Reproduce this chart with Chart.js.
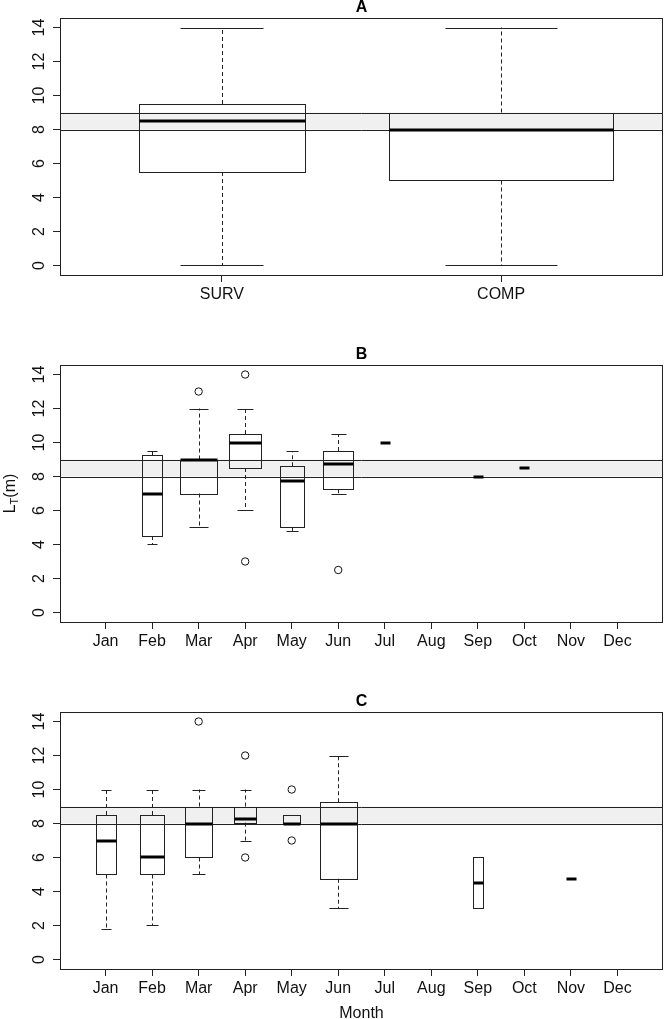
<!DOCTYPE html>
<html>
<head>
<meta charset="utf-8">
<script src="https://cdn.jsdelivr.net/npm/chart.js@4.4.1/dist/chart.umd.min.js"></script>
<style>
  html, body { margin: 0; padding: 0; background: #fff; overflow: hidden; }
  #wrap { position: relative; width: 664px; height: 1019px; overflow: hidden; }
  #wrap canvas { position: absolute; left: 0; }
</style>
</head>
<body>
<div id="wrap">
  <canvas id="panelA" width="664" height="347" style="top:0px"></canvas>
  <canvas id="panelB" width="664" height="347" style="top:347px"></canvas>
  <canvas id="panelC" width="664" height="347" style="top:694px"></canvas>
</div>
<script>
// ---- data ----
const yTicks = [0, 2, 4, 6, 8, 10, 12, 14];
const bandRange = [8, 9];

// Panel A: all records by group
const groupsA = ['SURV', 'COMP'];
const countA = [46, 83];
const lowA = [0, 0];
const q1A = [5.5, 5];
const medA = [8.5, 8];
const q3A = [9.5, 9];
const highA = [14, 14];
const outA = [[], []];

// Panel B: SURV by month
const months = ['Jan', 'Feb', 'Mar', 'Apr', 'May', 'Jun', 'Jul', 'Aug', 'Sep', 'Oct', 'Nov', 'Dec'];
const countB = [0, 4, 14, 10, 6, 9, 1, 0, 1, 1, 0, 0];
const lowB = [null, 4, 5, 6, 4.8, 7, 10, null, 8, 8.5, null, null];
const q1B = [null, 4.5, 7, 8.5, 5, 7.25, 10, null, 8, 8.5, null, null];
const medB = [null, 7, 9, 10, 7.75, 8.75, 10, null, 8, 8.5, null, null];
const q3B = [null, 9.25, 9, 10.5, 8.6, 9.5, 10, null, 8, 8.5, null, null];
const highB = [null, 9.5, 12, 12, 9.5, 10.5, 10, null, 8, 8.5, null, null];
const outB = [[], [], [13], [14, 3], [], [2.5], [], [], [], [], [], []];

// Panel C: COMP by month
const countC = [8, 12, 15, 10, 6, 28, 0, 0, 2, 0, 2, 0];
const lowC = [1.8, 2, 5, 7, 8, 3, null, null, 3, null, 4.75, null];
const q1C = [5, 5, 6, 8.05, 8, 4.75, null, null, 3, null, 4.75, null];
const medC = [7, 6, 8, 8.25, 8, 8, null, null, 4.5, null, 4.75, null];
const q3C = [8.5, 8.5, 9, 9, 8.5, 9.25, null, null, 6, null, 4.75, null];
const highC = [10, 10, 10, 10, 8.5, 12, null, null, 6, null, 4.75, null];
const outC = [[], [], [14], [12, 6], [10, 7], [], [], [], [], [], [], []];

// ---- drawing ----
const FONT = '"Liberation Sans", Arial, Helvetica, sans-serif';
Chart.defaults.font.family = FONT;
Chart.defaults.color = '#111';

const crisp = v => Math.round(v) + 0.5;

function boxPlugin(stats, yLabel) {
  return {
    id: 'rBoxes',
    beforeDatasetsDraw(chart) {
      const { ctx, chartArea: a, scales: { x, y } } = chart;
      ctx.save();
      // reference band
      const yTop = y.getPixelForValue(bandRange[1]);
      const yBot = y.getPixelForValue(bandRange[0]);
      ctx.fillStyle = '#f0f0f0';
      ctx.fillRect(a.left, yTop, a.right - a.left, yBot - yTop);
      ctx.strokeStyle = '#222';
      ctx.lineWidth = 1;
      [yTop, yBot].forEach(py => {
        ctx.beginPath();
        ctx.moveTo(a.left, crisp(py));
        ctx.lineTo(a.right, crisp(py));
        ctx.stroke();
      });

      // boxes (varwidth like R: 0.8 * sqrt(n / max n))
      const maxN = Math.max(...stats.count);
      stats.med.forEach((m, i) => {
        if (m === null) return;
        const xc = x.getPixelForValue(i + 1);
        const half = x.getPixelForValue(i + 1 + 0.4 * Math.sqrt(stats.count[i] / maxN)) - xc;
        const pQ1 = y.getPixelForValue(stats.q1[i]);
        const pQ3 = y.getPixelForValue(stats.q3[i]);
        const pLo = y.getPixelForValue(stats.low[i]);
        const pHi = y.getPixelForValue(stats.high[i]);
        const pMed = y.getPixelForValue(m);
        const xl = crisp(xc - half), xr = crisp(xc + half);
        ctx.strokeStyle = '#222';
        ctx.lineWidth = 1;

        // whiskers
        ctx.setLineDash([4, 3]);
        ctx.beginPath();
        if (pHi < pQ3) { ctx.moveTo(crisp(xc), pQ3); ctx.lineTo(crisp(xc), pHi); }
        if (pLo > pQ1) { ctx.moveTo(crisp(xc), pQ1); ctx.lineTo(crisp(xc), pLo); }
        ctx.stroke();
        ctx.setLineDash([]);
        // staples + box
        if (stats.q3[i] !== stats.q1[i]) {
          ctx.beginPath();
          ctx.moveTo(crisp(xc - half / 2), crisp(pHi));
          ctx.lineTo(crisp(xc + half / 2), crisp(pHi));
          ctx.moveTo(crisp(xc - half / 2), crisp(pLo));
          ctx.lineTo(crisp(xc + half / 2), crisp(pLo));
          ctx.stroke();
          ctx.strokeRect(xl, crisp(pQ3), xr - xl, crisp(pQ1) - crisp(pQ3));
        }
        // median
        ctx.strokeStyle = '#000';
        ctx.lineWidth = 3;
        ctx.beginPath();
        ctx.moveTo(xl, Math.round(pMed));
        ctx.lineTo(xr, Math.round(pMed));
        ctx.stroke();
      });
      ctx.restore();
    },
    afterDraw(chart) {
      const { ctx, chartArea: a, scales: { y } } = chart;
      ctx.save();
      // frame
      ctx.strokeStyle = '#222';
      ctx.lineWidth = 1;
      ctx.strokeRect(crisp(a.left), crisp(a.top), Math.round(a.right - a.left) - 1, Math.round(a.bottom - a.top));
      // rotated y tick labels (R style, parallel to axis)
      ctx.fillStyle = '#111';
      ctx.font = '16px ' + FONT;
      ctx.textAlign = 'center';
      ctx.textBaseline = 'alphabetic';
      y.ticks.forEach(t => {
        ctx.save();
        ctx.translate(a.left - 16, y.getPixelForValue(t.value));
        ctx.rotate(-Math.PI / 2);
        ctx.fillText(String(t.value), 0, 0);
        ctx.restore();
      });
      // y axis title with subscript
      if (yLabel) {
        ctx.save();
        ctx.translate(15, (a.top + a.bottom) / 2);
        ctx.rotate(-Math.PI / 2);
        ctx.textAlign = 'left';
        ctx.font = '16px ' + FONT;
        const wMain = ctx.measureText(yLabel[0]).width;
        const wTail = ctx.measureText(yLabel[2]).width;
        ctx.font = '11px ' + FONT;
        const wSub = ctx.measureText(yLabel[1]).width;
        let x0 = -(wMain + wSub + wTail) / 2;
        ctx.font = '16px ' + FONT;
        ctx.fillText(yLabel[0], x0, 0);
        ctx.font = '11px ' + FONT;
        ctx.fillText(yLabel[1], x0 + wMain, 3);
        ctx.font = '16px ' + FONT;
        ctx.fillText(yLabel[2], x0 + wMain + wSub, 0);
        ctx.restore();
      }
      ctx.restore();
    }
  };
}

function makePanel(id, title, cats, stats, yLabel, xTitle) {
  const n = cats.length;
  const pad = 0.04 * n; // R's 4% axis extension of [0.5, n + 0.5]
  const outliers = [];
  stats.out.forEach((vals, i) => vals.forEach(v => outliers.push({ x: i + 1, y: v })));

  return new Chart(document.getElementById(id), {
    type: 'scatter',
    data: {
      datasets: [{
        data: outliers,
        pointStyle: 'circle',
        pointRadius: 3.7,
        pointBorderWidth: 1,
        pointBorderColor: '#111',
        pointBackgroundColor: 'rgba(0,0,0,0)'
      }]
    },
    options: {
      responsive: false,
      animation: false,
      events: [],
      layout: { autoPadding: false, padding: { left: 0, right: 1, top: 0, bottom: 0 } },
      plugins: {
        legend: { display: false },
        tooltip: { enabled: false },
        title: {
          display: true,
          text: title,
          fullSize: false,
          color: '#000',
          font: { size: 16, weight: 'bold', lineHeight: 1 },
          padding: { top: 0, bottom: 2 }
        }
      },
      scales: {
        x: {
          type: 'linear',
          min: 0.5 - pad,
          max: n + 0.5 + pad,
          afterBuildTicks: s => { s.ticks = cats.map((c, i) => ({ value: i + 1 })); },
          afterFit: s => { s.height = 72; s.paddingLeft = 0; s.paddingRight = 0; },
          ticks: {
            autoSkip: false,
            maxRotation: 0,
            padding: 3,
            color: '#111',
            font: { size: 16 },
            callback: v => cats[v - 1]
          },
          grid: { drawOnChartArea: false, drawTicks: true, tickLength: 7, color: '#222' },
          border: { display: false },
          title: {
            display: !!xTitle,
            text: xTitle || '',
            color: '#111',
            font: { size: 16 },
            padding: { top: 0, bottom: 18 }
          }
        },
        y: {
          type: 'linear',
          min: -0.56,
          max: 14.56,
          afterBuildTicks: s => { s.ticks = yTicks.map(v => ({ value: v })); },
          afterFit: s => { s.width = 60; s.paddingTop = 0; s.paddingBottom = 0; },
          ticks: { display: false },
          grid: { drawOnChartArea: false, drawTicks: true, tickLength: 7, color: '#222' },
          border: { display: false }
        }
      }
    },
    plugins: [boxPlugin(stats, yLabel)]
  });
}

makePanel('panelA', 'A', groupsA,
  { count: countA, low: lowA, q1: q1A, med: medA, q3: q3A, high: highA, out: outA }, null, null);
makePanel('panelB', 'B', months,
  { count: countB, low: lowB, q1: q1B, med: medB, q3: q3B, high: highB, out: outB }, ['L', 'T', '(m)'], null);
makePanel('panelC', 'C', months,
  { count: countC, low: lowC, q1: q1C, med: medC, q3: q3C, high: highC, out: outC }, null, 'Month');
</script>
</body>
</html>
